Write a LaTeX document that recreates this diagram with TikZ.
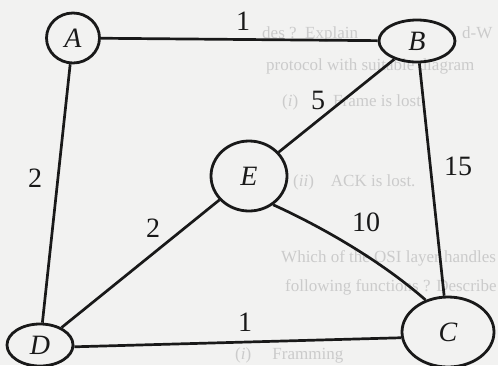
\documentclass[tikz,border=0pt]{standalone}
\usepackage{fontspec}
\setmainfont{Liberation Serif}
\usetikzlibrary{shapes.geometric}
\definecolor{paper}{RGB}{242,242,241}
\definecolor{ink}{RGB}{25,25,25}
\definecolor{ghost}{RGB}{203,203,203}
\begin{document}
\begin{tikzpicture}[x=1pt,y=-1pt,
  vert/.style={draw=ink, line width=2.8pt, ellipse, inner sep=0pt,
    font=\fontsize{28}{28}\selectfont\itshape, text=ink},
  edgeline/.style={draw=ink, line width=2.7pt},
  wt/.style={font=\fontsize{28}{28}\selectfont, text=ink, inner sep=0pt},
  bg/.style={font=\fontsize{17}{17}\selectfont, text=ghost, anchor=base west, inner sep=0pt}]
\fill[paper] (0,0) rectangle (498,365);
\useasboundingbox (0,0) rectangle (498,365);
% faint text of the printed page
\node[bg] (t1) at (262,38) {des ?\ \ Explain};
\node[bg] (t1b) at (462,38) {d-W};
\node[bg] (t2) at (266,70) {protocol with suitable diagram};
\node[bg] (t3a) at (282,106) {(\textit{i})};
\node[bg] (t3b) at (333,106) {Frame is lost};
\node[bg] (t4) at (293,186) {(\textit{ii})\quad ACK is lost.};
\node[bg] (t5) at (281,262) {Which of the OSI layer handles};
\node[bg] (t6) at (285,291) {following functions ? Describe};
\node[bg] (t7) at (235,359) {(\textit{i})\quad\ Framming};
% vertices
\node[vert, minimum width=53pt, minimum height=50pt] (A) at (73,38) {A};
\node[vert, minimum width=76pt, minimum height=42pt] (B) at (417,41) {B};
\node[vert, minimum width=76pt, minimum height=70pt] (E) at (249,176) {E};
\node[vert, minimum width=66pt, minimum height=42pt] (D) at (40,345) {D};
\node[vert, minimum width=92pt, minimum height=70pt] (C) at (448,332) {C};
% edges
\draw[edgeline] (A) -- (B);
\draw[edgeline] (A) -- (D);
\draw[edgeline] (B) -- (E);
\draw[edgeline] (B) -- (C);
\draw[edgeline] (E) -- (D);
\draw[edgeline] (E.-50) .. controls (320,226) and (380,260) .. (C.125);
\draw[edgeline] (D.-3) -- (C.187);
% weights
\node[wt] (wab) at (243,21) {1};
\node[wt] (wad) at (35,178) {2};
\node[wt] (wbe) at (318,100) {5};
\node[wt] (wbc) at (458,166) {15};
\node[wt] (wed) at (153,228) {2};
\node[wt] (wec) at (366,222) {10};
\node[wt] (wdc) at (245,322) {1};
\end{tikzpicture}
\end{document}
